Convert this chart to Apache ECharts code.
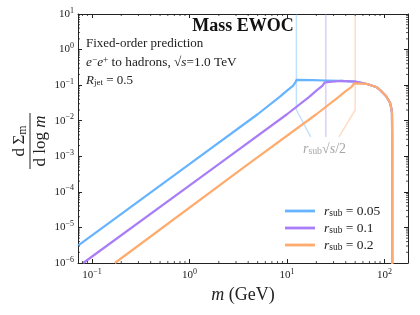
<!DOCTYPE html>
<html><head><meta charset="utf-8">
<script src="https://cdn.jsdelivr.net/npm/echarts@6/dist/echarts.min.js"></script>
<style>html,body{margin:0;padding:0;background:#fff}#c{width:420px;height:315px}</style>
</head><body><div id="c"></div>
<script>
// ---- axis ranges ----
const xMin = 0.072, xMax = 174;
const yMin = 1e-6, yMax = 10;
const minorMult = [2, 3, 4, 5, 6, 7, 8, 9];
const xDecades = [0.01, 0.1, 1, 10, 100];
const yDecades = [1e-6, 1e-5, 1e-4, 1e-3, 1e-2, 1e-1, 1];

// ---- series ----
const legendNames = ['r_sub = 0.05', 'r_sub = 0.1', 'r_sub = 0.2'];
const blueM = [0.072, 1, 5, 8.47, 10, 11.5, 12.2, 12.5];
const blueV = [3.1e-6, 6.0e-4, 0.0152, 0.0473, 0.07, 0.095, 0.12, 0.14];
const purpleM = [0.0814, 2, 10, 16.9, 20, 23, 24.4, 25];
const purpleV = [1e-6, 6.0e-4, 0.0152, 0.047, 0.07, 0.095, 0.12, 0.135];
const orangeM = [0.172, 4, 20, 33.9, 40, 46, 48.8, 50];
const orangeV = [1e-6, 6.0e-4, 0.0152, 0.047, 0.068, 0.09, 0.112, 0.126];
// shared high-mass tail
const tailM = [18, 25, 35, 50, 66, 82, 90, 103.5, 113.8, 117.5, 119.2, 119.7, 119.9];
const tailV = [0.139, 0.135, 0.131, 0.126, 0.108, 0.089, 0.073, 0.0496, 0.032, 0.022, 0.0166, 0.004, 1e-7];
// annotation guide lines
const annBlueM = [12.5, 12.5, 17.5], annBlueV = [10, 0.02, 0.0035];
const annPurpleM = [25, 25], annPurpleV = [10, 0.0035];
const annOrangeM = [50, 50, 34.1], annOrangeV = [10, 0.02, 0.0035];

const colors = ['#66b3ff', '#a87df7', '#ffab6e'];
const lightColors = ['rgba(102,179,255,0.4)', 'rgba(168,125,247,0.38)', 'rgba(255,171,110,0.4)'];

const FF = '"Liberation Serif", "DejaVu Serif", serif';
const INK = '#222';

function zip(a, b) { return a.map((v, i) => [v, b[i]]); }
function withTail(m, v) {
  const last = m[m.length - 1];
  const pts = zip(m, v);
  tailM.forEach((t, i) => { if (t > last) pts.push([t, tailV[i]]); });
  return pts;
}
function minors(decades, lo, hi) {
  const out = [];
  decades.forEach(d => minorMult.forEach(k => { const v = d * k; if (v > lo && v < hi) out.push(v); }));
  return out;
}
const xMinor = minors(xDecades, xMin, xMax);
const yMinor = minors(yDecades, yMin, yMax);

const tickRich = {
  b: { fontFamily: FF, fontSize: 11, color: INK, lineHeight: 15 },
  s: { fontFamily: FF, fontSize: 8, color: INK, verticalAlign: 'top', lineHeight: 9 }
};
function powLabel(v) {
  const e = Math.log10(v), r = Math.round(e);
  if (Math.abs(e - r) > 1e-6) return '';
  return '{b|10}{s|' + (r < 0 ? '\u2212' + (-r) : r) + '}';
}
const lineStyleAx = { color: INK, width: 1 };

function xAxisBase(pos) {
  return {
    type: 'log', logBase: 10, min: xMin, max: xMax, position: pos,
    axisLine: { show: true, onZero: false, lineStyle: lineStyleAx },
    axisTick: { show: true, inside: true, length: 4, lineStyle: lineStyleAx },
    minorTick: { show: false }, splitLine: { show: false },
    axisLabel: { show: pos === 'bottom', formatter: powLabel, rich: tickRich, margin: 5, showMinLabel: false, showMaxLabel: false }
  };
}
function yAxisBase(pos) {
  return {
    type: 'log', logBase: 10, min: yMin, max: yMax, position: pos,
    axisLine: { show: true, onZero: false, lineStyle: lineStyleAx },
    axisTick: { show: true, inside: true, length: 4, lineStyle: lineStyleAx },
    minorTick: { show: false }, splitLine: { show: false },
    axisLabel: { show: pos === 'left', formatter: powLabel, rich: tickRich, margin: 4 }
  };
}
const xb = xAxisBase('bottom');
xb.name = '{i|m}{n| (GeV)}';
xb.nameLocation = 'middle';
xb.nameGap = 19;
xb.nameTextStyle = { rich: {
  i: { fontFamily: FF, fontStyle: 'italic', fontSize: 18, color: INK },
  n: { fontFamily: FF, fontSize: 18, color: INK } } };

const tickLine = { stroke: INK, lineWidth: 0.8 };
function curve(name, data, color) {
  return { name, type: 'line', data, showSymbol: false, symbol: 'none', clip: true,
    lineStyle: { color, width: 2.2 }, itemStyle: { color }, z: 3, silent: true, animation: false };
}
function guide(m, v, color) {
  return { type: 'line', data: zip(m, v), showSymbol: false, symbol: 'none', clip: true,
    lineStyle: { color, width: 1.5 }, z: 2, silent: true, animation: false };
}

const txtRich = (size, color) => ({
  n: { fontFamily: FF, fontSize: size, color, fill: color },
  i: { fontFamily: FF, fontSize: size, fontStyle: 'italic', color, fill: color },
  sp: { fontFamily: FF, fontSize: size * 0.7, color, fill: color, verticalAlign: 'top' },
  sb: { fontFamily: FF, fontSize: size * 0.7, color, fill: color, verticalAlign: 'bottom' }
});

const option = {
  animation: false,
  grid: { left: 78, right: 12, top: 14, bottom: 52 },
  xAxis: [xb, xAxisBase('top')],
  yAxis: [yAxisBase('left'), yAxisBase('right')],
  legend: {
    data: legendNames.map(n => ({ name: n, icon: 'rect' })), orient: 'vertical', left: 280, top: 199,
    itemWidth: 30, itemHeight: 2.8, itemGap: 3,
    textStyle: { padding: [0, 0, 0, 4], rich: txtRich(13.5, INK) },
    formatter: name => '{i|r}{sb|sub}{n| = ' + name.split('= ')[1] + '}'
  },
  series: [
    guide(annBlueM, annBlueV, lightColors[0]),
    guide(annPurpleM, annPurpleV, lightColors[1]),
    guide(annOrangeM, annOrangeV, lightColors[2]),
    curve(legendNames[0], withTail(blueM, blueV), colors[0]),
    curve(legendNames[1], withTail(purpleM, purpleV), colors[1]),
    curve(legendNames[2], withTail(orangeM, orangeV), colors[2]),
    { type: 'custom', silent: true, z: 10, data: xMinor.map(v => [v, yMin]),
      renderItem: (p, api) => {
        const m = api.value(0);
        const b = api.coord([m, yMin]), t = api.coord([m, yMax]);
        return { type: 'group', children: [
          { type: 'line', shape: { x1: b[0], y1: b[1], x2: b[0], y2: b[1] - 2 }, style: tickLine },
          { type: 'line', shape: { x1: t[0], y1: t[1], x2: t[0], y2: t[1] + 2 }, style: tickLine }] };
      } },
    { type: 'custom', silent: true, z: 10, data: yMinor.map(v => [xMin, v]),
      renderItem: (p, api) => {
        const v = api.value(1);
        const l = api.coord([xMin, v]), r = api.coord([xMax, v]);
        return { type: 'group', children: [
          { type: 'line', shape: { x1: l[0], y1: l[1], x2: l[0] + 2, y2: l[1] }, style: tickLine },
          { type: 'line', shape: { x1: r[0], y1: r[1], x2: r[0] - 2, y2: r[1] }, style: tickLine }] };
      } }
  ],
  graphic: [
    { type: 'text', x: 243, y: 26, style: { text: 'Mass EWOC', fontFamily: FF, fontWeight: 'bold', fontSize: 18, fill: '#111', align: 'center', verticalAlign: 'middle' } },
    { type: 'text', x: 86, y: 44, style: { text: 'Fixed-order prediction', fontFamily: FF, fontSize: 13, fill: INK, align: 'left', verticalAlign: 'middle' } },
    { type: 'text', x: 86, y: 63, style: { text: '{i|e}{sp|\u2212}{i|e}{sp|+}{n| to hadrons, \u221A}{i|s}{n|=1.0 TeV}', rich: txtRich(13.3, INK), align: 'left', verticalAlign: 'middle' } },
    { type: 'text', x: 86, y: 81, style: { text: '{i|R}{sb|jet}{n| = 0.5}', rich: txtRich(13, INK), align: 'left', verticalAlign: 'middle' } },
    { type: 'text', x: 324.5, y: 149, style: { text: '{i|r}{sb|sub}{n|\u221A}{i|s}{n|/2}', rich: txtRich(14, '#a6a6a6'), align: 'center', verticalAlign: 'middle' } },
    { type: 'group', x: 30, y: 141, rotation: Math.PI / 2, children: [
      { type: 'text', x: 0, y: -10, style: { text: '{n|d\u2009\u03A3}{sb|m}', rich: txtRich(17, INK), align: 'center', verticalAlign: 'middle' } },
      { type: 'line', shape: { x1: -28, y1: 0, x2: 28, y2: 0 }, style: { stroke: INK, lineWidth: 1 } },
      { type: 'text', x: 0, y: 11, style: { text: '{n|d log }{i|m}', rich: txtRich(17, INK), align: 'center', verticalAlign: 'middle' } }
    ] }
  ]
};
const chart = echarts.init(document.getElementById('c'));
chart.setOption(option);
</script>
</body></html>
